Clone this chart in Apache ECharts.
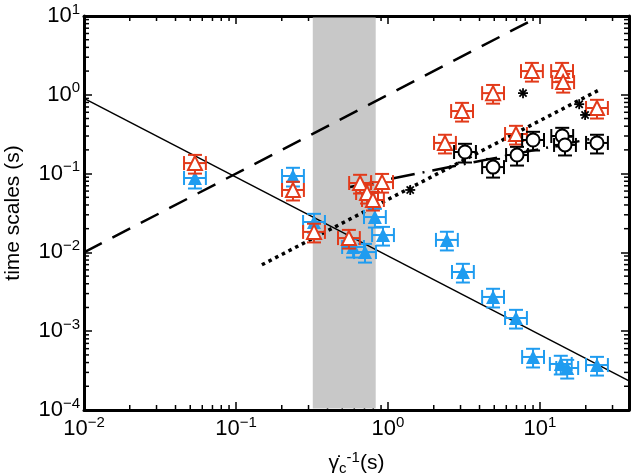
<!DOCTYPE html>
<html><head><meta charset="utf-8">
<script src="https://cdn.jsdelivr.net/npm/echarts@6/dist/echarts.min.js"></script>
<style>html,body{margin:0;padding:0;background:#fff}#c{width:631px;height:473px}</style>
</head><body><div id="c"></div>
<script>
// ---- data ----
const xRange = [0.01, 38.5];
const yRange = [1e-4, 10];
const bandX = [0.32, 0.83];

const redX = [0.0537, 0.237, 0.326, 0.553, 0.655, 0.728, 0.796, 0.914, 2.37, 3.07, 4.91, 8.85, 13.97, 14.2, 23.7, 6.95];
const redY = [0.136, 0.062, 0.0182, 0.0152, 0.076, 0.0567, 0.0462, 0.078, 0.245, 0.622, 1.05, 2.0, 2.0, 1.45, 0.68, 0.318];

const blueX = [0.0537, 0.237, 0.326, 0.589, 0.706, 0.820, 0.927, 2.44, 3.11, 4.91, 6.95, 9.0, 13.7, 15.1, 23.7];
const blueY = [0.088, 0.0933, 0.0243, 0.0117, 0.0101, 0.0281, 0.0166, 0.0144, 0.00564, 0.00272, 0.00147, 0.000471, 0.000384, 0.000341, 0.000372];

const blackX = [3.21, 4.91, 7.06, 9.0, 14.0, 14.6, 23.7];
const blackY = [0.188, 0.121, 0.172, 0.267, 0.30, 0.231, 0.245];

const starX = [1.40, 7.73, 18.1, 19.8];
const starY = [0.062, 1.05, 0.76, 0.555];

// relative error factors (multiplicative)
const errX = 1.18;
const errYUp = 1.27;
const errYDown = 1.36;

// fit lines
const solidX = [0.01, 38.5];
const solidY = [0.9, 0.000234];
const dashX = [0.01, 10];
const dashY = [0.01, 10];
const dotX = [0.148, 24];
const dotY = [0.00696, 1.13];
const dashDotX = [0.562, 24.8];
const dashDotY = [0.0676, 0.291];

// ---- helpers ----
const RED = '#e23a1a', BLUE = '#1f9cf0', BLACK = '#000';
const FONT = 'Liberation Sans';
const zip = (a, b) => a.map((v, i) => [v, b[i]]);

const xMinor = [], yMinor = [];
for (let n = -2; n <= 1; n++) for (let m = 2; m <= 9; m++) { const v = m * Math.pow(10, n); if (v < xRange[1]) xMinor.push([v]); }
for (let n = -4; n <= 0; n++) for (let m = 2; m <= 9; m++) yMinor.push([m * Math.pow(10, n)]);

function expLabel(v) {
  const e = Math.round(Math.log10(v));
  if (Math.abs(Math.log10(v) - e) > 1e-6) return '';
  return '{b|10}{s|' + (e < 0 ? '\u2212' + (-e) : e) + '}';
}
const richLbl = {
  b: { fontSize: 22, fontFamily: FONT, color: '#000', lineHeight: 28 },
  s: { fontSize: 15, fontFamily: FONT, color: '#000', lineHeight: 15, verticalAlign: 'top' }
};

function errSeries(xs, ys, color, z) {
  return {
    type: 'custom', z: z, data: zip(xs, ys), clip: false,
    renderItem: function (params, api) {
      const x = api.value(0), y = api.value(1);
      const c = api.coord([x, y]);
      const xl = api.coord([x / errX, y])[0], xr = api.coord([x * errX, y])[0];
      const yt = api.coord([x, y * errYUp])[1], yb = api.coord([x, y / errYDown])[1];
      const cap = 7;
      const st = { stroke: color, lineWidth: 2, fill: null };
      const L = (x1, y1, x2, y2) => ({ type: 'line', shape: { x1, y1, x2, y2 }, style: st });
      return {
        type: 'group', children: [
          L(xl, c[1], xr, c[1]), L(xl, c[1] - cap, xl, c[1] + cap), L(xr, c[1] - cap, xr, c[1] + cap),
          L(c[0], yt, c[0], yb), L(c[0] - cap, yt, c[0] + cap, yt), L(c[0] - cap, yb, c[0] + cap, yb)
        ]
      };
    }
  };
}

function minorTickSeries(vals, dir) {
  return {
    type: 'custom', z: 0, data: vals, clip: false, silent: true,
    renderItem: function (params, api) {
      const cs = params.coordSys;
      const v = api.value(0);
      const len = 5;
      const st = { stroke: '#000', lineWidth: 1.5 };
      if (dir === 'x') {
        const px = api.coord([v, yRange[0]])[0];
        return { type: 'group', children: [
          { type: 'line', shape: { x1: px, y1: cs.y + cs.height, x2: px, y2: cs.y + cs.height - len }, style: st },
          { type: 'line', shape: { x1: px, y1: cs.y, x2: px, y2: cs.y + len }, style: st }
        ] };
      } else {
        const py = api.coord([xRange[0], v])[1];
        return { type: 'group', children: [
          { type: 'line', shape: { x1: cs.x, y1: py, x2: cs.x + len, y2: py }, style: st },
          { type: 'line', shape: { x1: cs.x + cs.width, y1: py, x2: cs.x + cs.width - len, y2: py }, style: st }
        ] };
      }
    }
  };
}

const axisCommon = {
  type: 'log', logBase: 10,
  axisLine: { show: true, onZero: false, lineStyle: { color: '#000', width: 3 } },
  axisTick: { show: true, inside: true, length: 8, lineStyle: { color: '#000', width: 1.5 } },
  splitLine: { show: false }
};

const chart = echarts.init(document.getElementById('c'), null, { renderer: 'canvas' });
chart.setOption({
  animation: false,
  backgroundColor: '#fff',
  grid: { left: 84, right: 2, top: 16, bottom: 63, containLabel: false, outerBoundsMode: 'none' },
  xAxis: [
    Object.assign({}, axisCommon, {
      position: 'bottom', min: xRange[0], max: xRange[1],
      axisLabel: { show: true, margin: 5, formatter: expLabel, rich: richLbl, showMaxLabel: false },
      name: '{g|\u03B3\u0307}{c|c}{e|-1}{g|(s)}', nameLocation: 'middle', nameGap: 40,
      nameTextStyle: {
        rich: {
          g: { fontSize: 21, fontFamily: FONT, color: '#000', lineHeight: 26 },
          c: { fontSize: 15, fontFamily: FONT, color: '#000', lineHeight: 15, verticalAlign: 'bottom', padding: [7, 0, 0, 0] },
          e: { fontSize: 15, fontFamily: FONT, color: '#000', lineHeight: 15, verticalAlign: 'top' }
        }
      }
    }),
    Object.assign({}, axisCommon, {
      position: 'top', min: xRange[0], max: xRange[1],
      axisLabel: { show: false }
    })
  ],
  yAxis: [
    Object.assign({}, axisCommon, {
      position: 'left', min: yRange[0], max: yRange[1],
      axisLabel: { show: true, margin: 4, formatter: expLabel, rich: richLbl },
      name: 'time scales (s)', nameLocation: 'middle', nameGap: 60, nameRotate: 90,
      nameTextStyle: { fontSize: 21, fontFamily: FONT, color: '#000' }
    }),
    Object.assign({}, axisCommon, {
      position: 'right', min: yRange[0], max: yRange[1],
      axisLabel: { show: false }
    })
  ],
  series: [
    minorTickSeries(xMinor, 'x'),
    minorTickSeries(yMinor, 'y'),
    {
      type: 'custom', z: 1, data: [[bandX[0], bandX[1]]], clip: false, silent: true,
      renderItem: function (params, api) {
        const cs = params.coordSys;
        const x0 = api.coord([api.value(0), yRange[0]])[0];
        const x1 = api.coord([api.value(1), yRange[0]])[0];
        return { type: 'rect', shape: { x: x0, y: cs.y + 1.5, width: x1 - x0, height: cs.height - 3 }, style: { fill: '#c8c8c8' } };
      }
    },
    { type: 'line', z: 2, data: zip(solidX, solidY), showSymbol: false, lineStyle: { color: '#000', width: 1.5 } },
    { type: 'line', z: 2, data: zip(dashX, dashY), showSymbol: false, lineStyle: { color: '#000', width: 2.5, type: [20, 12] } },
    { type: 'line', z: 2, data: zip(dotX, dotY), showSymbol: false, lineStyle: { color: '#000', width: 3.5, type: [3.5, 4] } },
    { type: 'line', z: 2, data: zip(dashDotX, dashDotY), showSymbol: false, lineStyle: { color: '#000', width: 2.5, type: [24, 8, 2, 8] } },
    errSeries(blueX, blueY, BLUE, 3),
    { type: 'scatter', z: 4, data: zip(blueX, blueY), symbol: 'triangle', symbolSize: 14, itemStyle: { color: BLUE, opacity: 1 } },
    errSeries(redX, redY, RED, 5),
    { type: 'scatter', z: 6, data: zip(redX, redY), symbol: 'triangle', symbolSize: 14, itemStyle: { color: '#fff', borderColor: RED, borderWidth: 2, opacity: 1 } },
    errSeries(blackX, blackY, BLACK, 7),
    { type: 'scatter', z: 8, data: zip(blackX, blackY), symbol: 'circle', symbolSize: 13, itemStyle: { color: '#fff', borderColor: BLACK, borderWidth: 2, opacity: 1 } },
    {
      type: 'custom', z: 9, data: zip(starX, starY), clip: false,
      renderItem: function (params, api) {
        const c = api.coord([api.value(0), api.value(1)]);
        const r = 5, d = 3.6;
        const st = { stroke: '#000', lineWidth: 1.8 };
        const L = (x1, y1, x2, y2) => ({ type: 'line', shape: { x1, y1, x2, y2 }, style: st });
        return { type: 'group', children: [
          L(c[0] - r, c[1], c[0] + r, c[1]), L(c[0], c[1] - r, c[0], c[1] + r),
          L(c[0] - d, c[1] - d, c[0] + d, c[1] + d), L(c[0] - d, c[1] + d, c[0] + d, c[1] - d)
        ] };
      }
    }
  ]
});
</script>
</body></html>
